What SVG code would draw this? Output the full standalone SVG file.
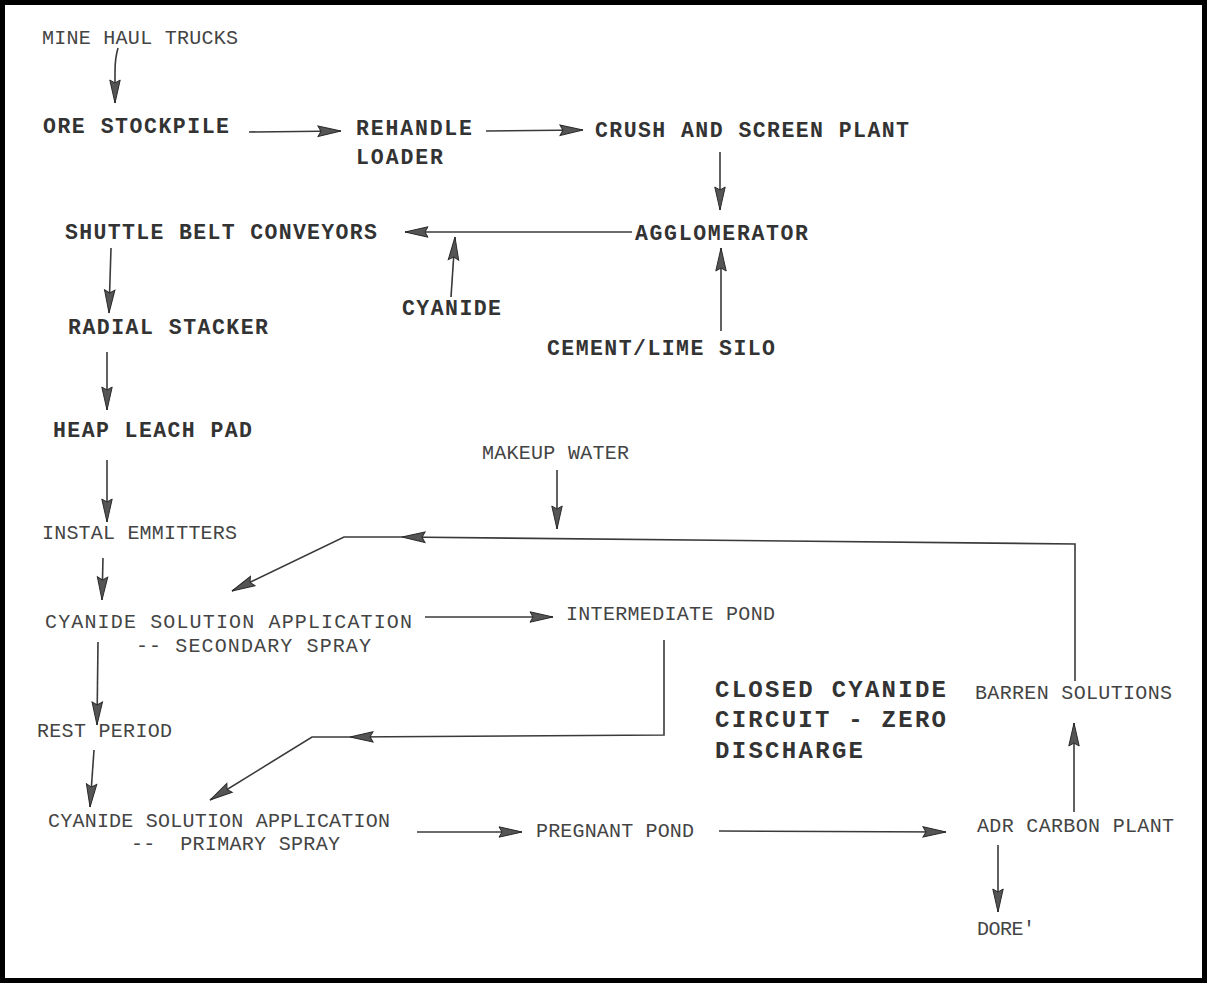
<svg xmlns="http://www.w3.org/2000/svg" width="1207" height="983" viewBox="0 0 1207 983">
<style>
.t{font-family:"Liberation Mono","DejaVu Sans Mono",monospace;font-size:20px;fill:#444;}
.b{font-weight:bold;fill:#333;font-size:21.5px;}
.big{font-size:24px;}
.c{fill:none;stroke:#3a3a3a;stroke-width:1.6;marker-end:url(#ah);}
</style>
<defs>
<marker id="ah" markerUnits="userSpaceOnUse" markerWidth="28" markerHeight="14" refX="23" refY="6" orient="auto" overflow="visible">
<path d="M0,0.8 L23,6 L0,11.2 L3,6 z" fill="#555" stroke="#2a2a2a" stroke-width="1"/>
</marker>
</defs>
<rect x="0" y="0" width="1207" height="983" fill="#fff"/>
<rect x="2.5" y="2.5" width="1202" height="978" fill="none" stroke="#000" stroke-width="5"/>

<g id="connectors">
<path class="c" d="M118,48 Q115,58 115,72 L115,103"/>
<path class="c" d="M249,132 L341,131"/>
<path class="c" d="M486,131 L583,130"/>
<path class="c" d="M720,152 L720,210"/>
<path class="c" d="M632,232 L405,232"/>
<path class="c" d="M451,297 L455,237"/>
<path class="c" d="M721,331 L721,248"/>
<path class="c" d="M111,248 L109,313"/>
<path class="c" d="M107,352 L107,410"/>
<path class="c" d="M107,460 L107,522"/>
<path class="c" d="M103,558 L102,600"/>
<path class="c" d="M98,642 L97,725"/>
<path class="c" d="M94,750 L90,807"/>
<path class="c" d="M425,617 L553,617"/>
<path class="c" d="M664,640 L664,735 L350,737"/>
<path class="c" d="M352,737 L312,737 L210,800"/>
<path class="c" d="M1075,681 L1075,544 L402,537"/>
<path class="c" d="M404,537 L344,537 L232,591"/>
<path class="c" d="M557,470 L557,529"/>
<path class="c" d="M417,832 L522,832"/>
<path class="c" d="M719,831 L946,832"/>
<path class="c" d="M1074,812 L1074,723"/>
<path class="c" d="M998,845 L998,912"/>
</g>

<g id="mine-haul-trucks"><text class="t" x="42" y="44" textLength="196" lengthAdjust="spacing">MINE HAUL TRUCKS</text></g>
<g id="ore-stockpile"><text class="t b" x="43" y="133" textLength="186" lengthAdjust="spacing">ORE STOCKPILE</text></g>
<g id="rehandle-loader"><text class="t b" x="356" y="135" textLength="116" lengthAdjust="spacing">REHANDLE</text><text class="t b" x="356" y="164" textLength="87" lengthAdjust="spacing">LOADER</text></g>
<g id="crush-screen"><text class="t b" x="595" y="137" textLength="314" lengthAdjust="spacing">CRUSH AND SCREEN PLANT</text></g>
<g id="agglomerator"><text class="t b" x="635" y="240" textLength="173" lengthAdjust="spacing">AGGLOMERATOR</text></g>
<g id="shuttle-belt"><text class="t b" x="65" y="239" textLength="312" lengthAdjust="spacing">SHUTTLE BELT CONVEYORS</text></g>
<g id="cyanide"><text class="t b" x="402" y="315" textLength="99" lengthAdjust="spacing">CYANIDE</text></g>
<g id="cement-lime"><text class="t b" x="547" y="355" textLength="228" lengthAdjust="spacing">CEMENT/LIME SILO</text></g>
<g id="radial-stacker"><text class="t b" x="68" y="334" textLength="200" lengthAdjust="spacing">RADIAL STACKER</text></g>
<g id="heap-leach"><text class="t b" x="53" y="437" textLength="199" lengthAdjust="spacing">HEAP LEACH PAD</text></g>
<g id="instal-emmitters"><text class="t" x="42" y="539" textLength="195" lengthAdjust="spacing">INSTAL EMMITTERS</text></g>
<g id="secondary-spray"><text class="t" x="45" y="628" textLength="367" lengthAdjust="spacing">CYANIDE SOLUTION APPLICATION</text><text class="t" x="136" y="652" textLength="235" lengthAdjust="spacing">-- SECONDARY SPRAY</text></g>
<g id="makeup-water"><text class="t" x="482" y="459" textLength="147" lengthAdjust="spacing">MAKEUP WATER</text></g>
<g id="intermediate-pond"><text class="t" x="566" y="620" textLength="209" lengthAdjust="spacing">INTERMEDIATE POND</text></g>
<g id="closed-circuit-note"><text class="t b big" x="715" y="697" textLength="231" lengthAdjust="spacing">CLOSED CYANIDE</text><text class="t b big" x="715" y="727" textLength="231" lengthAdjust="spacing">CIRCUIT - ZERO</text><text class="t b big" x="715" y="758" textLength="148" lengthAdjust="spacing">DISCHARGE</text></g>
<g id="barren-solutions"><text class="t" x="975" y="699" textLength="197" lengthAdjust="spacing">BARREN SOLUTIONS</text></g>
<g id="rest-period"><text class="t" x="37" y="737" textLength="135" lengthAdjust="spacing">REST PERIOD</text></g>
<g id="primary-spray"><text class="t" x="48" y="827" textLength="342" lengthAdjust="spacing">CYANIDE SOLUTION APPLICATION</text><text class="t" x="131" y="850" textLength="209" lengthAdjust="spacing" xml:space="preserve">--  PRIMARY SPRAY</text></g>
<g id="pregnant-pond"><text class="t" x="536" y="837" textLength="158" lengthAdjust="spacing">PREGNANT POND</text></g>
<g id="adr-carbon"><text class="t" x="977" y="832" textLength="197" lengthAdjust="spacing">ADR CARBON PLANT</text></g>
<g id="dore"><text class="t" x="977" y="935" textLength="58" lengthAdjust="spacing">DORE'</text></g>
</svg>
